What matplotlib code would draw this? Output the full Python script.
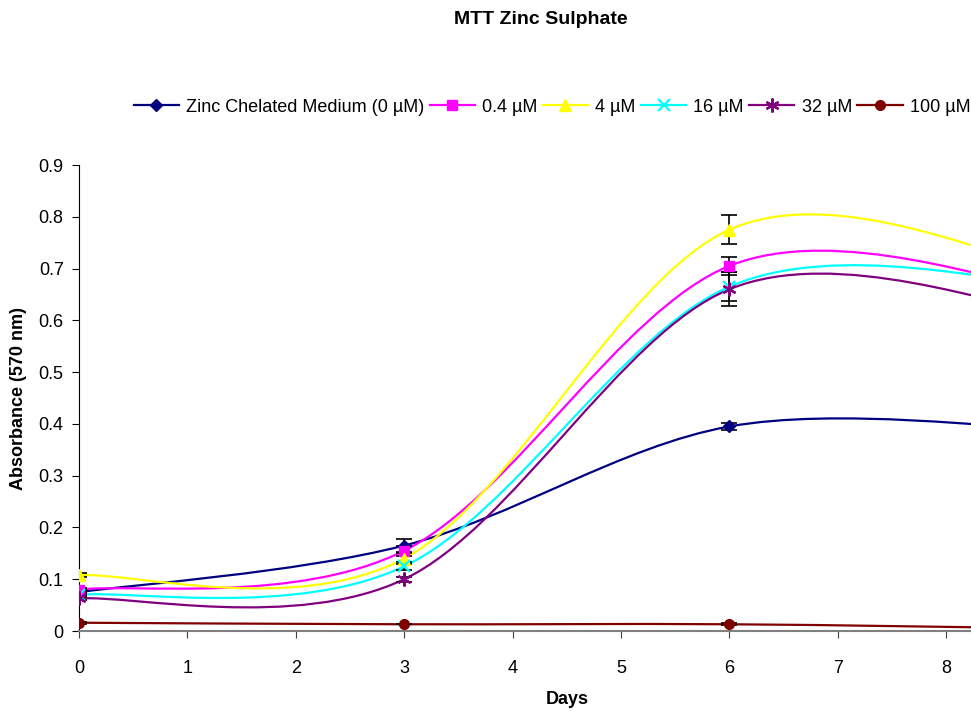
import matplotlib.pyplot as plt
from matplotlib.path import Path
from matplotlib.patches import PathPatch
from matplotlib.lines import Line2D

plt.rcParams['font.family'] = ['Liberation Sans', 'DejaVu Sans']

# readings from the MTT assay, days 0, 3, 6 and 9
days = [0, 3, 6, 9]
series_names = ['Zinc Chelated Medium (0 µM)', '0.4 µM', '4 µM', '16 µM', '32 µM', '100 µM']
chelated = [0.075, 0.165, 0.395, 0.39]
zn_0_4 = [0.080, 0.155, 0.705, 0.66]
zn_4 = [0.108, 0.140, 0.775, 0.70]
zn_16 = [0.070, 0.125, 0.665, 0.67]
zn_32 = [0.063, 0.100, 0.660, 0.615]
zn_100 = [0.016, 0.013, 0.013, 0.005]

# error bar half-widths
err_chelated = [0.004, 0.012, 0.006, 0.0]
err_0_4 = [0.004, 0.010, 0.018, 0.0]
err_4 = [0.004, 0.010, 0.028, 0.0]
err_16 = [0.004, 0.008, 0.028, 0.0]
err_32 = [0.004, 0.005, 0.033, 0.0]
err_100 = [0.002, 0.0, 0.002, 0.0]

values = [chelated, zn_0_4, zn_4, zn_16, zn_32, zn_100]
errors = [err_chelated, err_0_4, err_4, err_16, err_32, err_100]
colors = ['#000080', '#FF00FF', '#FFFF00', '#00FFFF', '#800080', '#800000']
markers = ['D', 's', '^', 'x', (6, 2, 0), 'o']
msizes = [6.5, 7, 8, 8, 10, 7]


def smooth_path(x, y):
    # excel style smoothed line: bezier segments through every point
    verts = [(x[0], y[0])]
    codes = [Path.MOVETO]
    n = len(x)
    for i in range(n - 1):
        xa, ya = (x[i - 1], y[i - 1]) if i > 0 else (x[i], y[i])
        xb, yb = (x[i + 2], y[i + 2]) if i + 2 < n else (x[i + 1], y[i + 1])
        c1 = (x[i] + (x[i + 1] - xa) / 6, y[i] + (y[i + 1] - ya) / 6)
        c2 = (x[i + 1] - (xb - x[i]) / 6, y[i + 1] - (yb - y[i]) / 6)
        verts += [c1, c2, (x[i + 1], y[i + 1])]
        codes += [Path.CURVE4] * 3
    return Path(verts, codes)


fig = plt.figure(figsize=(9.71, 7.11), dpi=100)
ax = fig.add_axes([79 / 971, 80 / 711, 892 / 971, 466 / 711])

handles = []
for vals, errs, col, mk, ms, name in zip(values, errors, colors, markers, msizes, series_names):
    ax.add_patch(PathPatch(smooth_path(days, vals), facecolor='none', edgecolor=col, lw=1.6, zorder=2))
    ax.errorbar(days, vals, yerr=errs, fmt='none', ecolor='black', elinewidth=1.2, capsize=6, capthick=1.2, zorder=3)
    ax.plot(days, vals, linestyle='none', marker=mk, markersize=ms, color=col,
            markeredgewidth=1.6 if mk in ('x', (6, 2, 0)) else 1, zorder=4)
    handles.append(Line2D([], [], color=col, lw=1.6, marker=mk, markersize=ms,
                          markeredgewidth=1.6 if mk in ('x', (6, 2, 0)) else 1, label=name))

ax.set_xlim(0, 8.23)
ax.set_ylim(0, 0.9)
ax.set_xticks(range(9))
ax.set_yticks([i / 10 for i in range(10)])
ax.set_yticklabels(['0'] + ['0.%d' % i for i in range(1, 10)])
ax.tick_params(axis='x', direction='out', length=5, pad=16, labelsize=13, color='#404040')
ax.tick_params(axis='y', direction='out', length=5, pad=6, labelsize=13)

ax.spines['top'].set_visible(False)
ax.spines['right'].set_visible(False)
ax.spines['bottom'].set_color('#808080')
ax.spines['bottom'].set_linewidth(1.5)

ax.set_xlabel('Days', fontsize=13, fontweight='bold')
ax.xaxis.set_label_coords(0.547, -0.128)
ax.set_ylabel('Absorbance (570 nm)', fontsize=13, fontweight='bold')
ax.yaxis.set_label_coords(-0.058, 0.5)

fig.text(541 / 971, 1 - 20 / 711, 'MTT Zinc Sulphate', fontsize=14, fontweight='bold',
         ha='center', va='center')

fig.legend(handles=handles, loc='center', bbox_to_anchor=(552 / 971, 1 - 107 / 711), ncol=6,
           frameon=False, fontsize=13, handlelength=2.5, handletextpad=0.4, columnspacing=0.3)

fig.savefig('out.png', dpi=100)
